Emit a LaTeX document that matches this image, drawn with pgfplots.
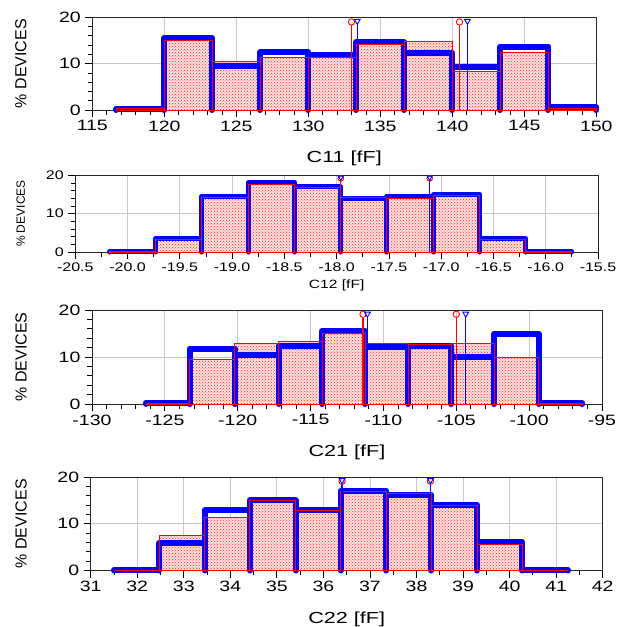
\documentclass[border=0pt]{standalone}
\usepackage{pgfplots}
\pgfplotsset{compat=1.18}
\usepackage{fontspec}
\setmainfont{Liberation Sans}
\usetikzlibrary{patterns}

\pgfplotsset{
  hist/.style={
    scale only axis, ymin=0, ymax=20, ytick={0,10,20}, minor y tick num=4,
    grid=major, major grid style={draw=black!22, line width=0.8pt},
    tick align=outside, xtick pos=left, ytick pos=left,
    axis line style={black!85, line width=0.8pt},
    major tick length=7pt, minor tick length=4.5pt,
    tick style={black, line width=0.8pt},
    clip=false,
    /pgf/number format/assume math mode=true,
    ylabel={\% DEVICES},
  },
  big/.style={
    tick label style={font=\fontsize{15}{15}\selectfont, xscale=1.3},
    xlabel style={font=\fontsize{16}{16}\selectfont, xscale=1.35},
    ylabel style={font=\fontsize{16}{16}\selectfont},
  },
  small/.style={
    tick label style={font=\fontsize{12.5}{12.5}\selectfont, xscale=1.28},
    xlabel style={font=\fontsize{12}{12}\selectfont, xscale=1.3},
    ylabel style={font=\fontsize{12}{12}\selectfont},
  },
  blueh/.style={draw=blue, line width=6pt, line join=round, line cap=round},
  redbar/.style={ybar interval=0.94, draw=red, line width=0.8pt, fill=red!12,
    postaction={pattern=crosshatch dots, pattern color=red!85}},
  redline/.style={ybar interval=0.94, draw=red, line width=0.8pt, fill=none},
  rmark/.style={red, only marks, mark=o, mark size=3.2pt, mark options={draw=red, line width=0.9pt}},
  bmark/.style={blue, only marks, mark=triangle, mark size=3.4pt, mark options={draw=blue, rotate=180, line width=0.9pt}},
  vline/.style={line width=1.1pt},
}

\begin{document}
\begin{tikzpicture}
\useasboundingbox (0,0) rectangle (625pt,-627pt);

% C11
\begin{axis}[hist, big, at={(92.3pt,-17.3pt)}, anchor=north west,
  width=504pt, height=92.7pt,
  xmin=115, xmax=150, xtick={115,120,...,150}, minor x tick num=4,
  xlabel={C11 [fF]},
  xlabel style={at={(axis description cs:0.5,-0.52)}, anchor=center},
  ylabel style={at={(axis description cs:-0.1415,0.5)}, anchor=center}]
  \addplot[redbar] coordinates {(116.67,0.4) (120,15.0) (123.33,10.4) (126.67,11.4) (130,11.3)
    (133.33,14.2) (136.67,14.7) (140,8.4) (143.33,12.4) (146.67,0.3) (150,0.3)};
  \addplot[blueh] coordinates {(116.67,0) (116.67,0.3) (120,0.3) (120,0) (120,15.5) (123.33,15.5)
    (123.33,0) (123.33,9.6) (126.67,9.6) (126.67,0) (126.67,12.5) (130,12.5) (130,0) (130,11.8)
    (133.33,11.8) (133.33,0) (133.33,14.6) (136.67,14.6) (136.67,0) (136.67,12.4) (140,12.4)
    (140,0) (140,9.3) (143.33,9.3) (143.33,0) (143.33,13.7) (146.67,13.7) (146.67,0)
    (146.67,0.6) (150,0.6) (150,0)};
  \addplot[redline] coordinates {(116.67,0.4) (120,15.0) (123.33,10.4) (126.67,11.4) (130,11.3)
    (133.33,14.2) (136.67,14.7) (140,8.4) (143.33,12.4) (146.67,0.3) (150,0.3)};
  \addplot[draw=red, vline] coordinates {(133.0,0) (133.0,18.3)};
  \addplot[draw=red, vline] coordinates {(140.5,0) (140.5,18.3)};
  \addplot[draw=blue, vline] coordinates {(133.4,0) (133.4,18.5)};
  \addplot[draw=blue, vline] coordinates {(141.05,0) (141.05,18.5)};
  \addplot[rmark] coordinates {(133.0,19.0) (140.5,19.0)};
  \addplot[bmark] coordinates {(133.4,19.2) (141.05,19.2)};
\end{axis}

% C12
\begin{axis}[hist, small, at={(75.3pt,-175.3pt)}, anchor=north west,
  width=522.7pt, height=76.7pt,
  xmin=-20.5, xmax=-15.5, xtick={-20.5,-20,...,-15.5}, minor x tick num=1,
  xticklabel style={/pgf/number format/.cd, fixed, fixed zerofill, precision=1},
  xlabel={C12 [fF]},
  xlabel style={at={(axis description cs:0.5,-0.43)}, anchor=center},
  ylabel style={at={(axis description cs:-0.1045,0.5)}, anchor=center},
  blueh/.append style={line width=5pt}]
  \addplot[redbar] coordinates {(-20.17,0.2) (-19.73,3.2) (-19.29,14.3) (-18.84,17.5) (-18.40,16.8)
    (-17.96,14.3) (-17.52,13.9) (-17.07,14.7) (-16.63,3.2) (-16.19,0.2) (-15.75,0.2)};
  \addplot[blueh] coordinates {(-20.17,0) (-20.17,0.2) (-19.73,0.2) (-19.73,0) (-19.73,3.5)
    (-19.29,3.5) (-19.29,0) (-19.29,14.6) (-18.84,14.6) (-18.84,0) (-18.84,18.1) (-18.40,18.1)
    (-18.40,0) (-18.40,17.0) (-17.96,17.0) (-17.96,0) (-17.96,13.9) (-17.52,13.9) (-17.52,0)
    (-17.52,14.6) (-17.07,14.6) (-17.07,0) (-17.07,15.0) (-16.63,15.0) (-16.63,0) (-16.63,3.5)
    (-16.19,3.5) (-16.19,0) (-16.19,0.2) (-15.75,0.2) (-15.75,0)};
  \addplot[redline] coordinates {(-20.17,0.2) (-19.73,3.2) (-19.29,14.3) (-18.84,17.5) (-18.40,16.8)
    (-17.96,14.3) (-17.52,13.9) (-17.07,14.7) (-16.63,3.2) (-16.19,0.2) (-15.75,0.2)};
  \addplot[draw=red, vline] coordinates {(-17.96,0) (-17.96,18.5)};
  \addplot[draw=blue, vline] coordinates {(-17.11,0) (-17.11,18.5)};
  \addplot[rmark, mark size=2.8pt] coordinates {(-17.96,19.2) (-17.11,19.2)};
  \addplot[bmark, mark size=2.8pt] coordinates {(-17.96,19.4) (-17.11,19.4)};
\end{axis}

% C21
\begin{axis}[hist, big, at={(92pt,-310pt)}, anchor=north west,
  width=510pt, height=94pt,
  xmin=-130, xmax=-95, xtick={-130,-125,...,-95}, minor x tick num=4,
  xlabel={C21 [fF]},
  xlabel style={at={(axis description cs:0.5,-0.51)}, anchor=center},
  ylabel style={at={(axis description cs:-0.139,0.5)}, anchor=center}]
  \addplot[redbar] coordinates {(-126.3,0.1) (-123.3,9.4) (-120.2,12.9) (-117.2,13.4) (-114.2,15.0)
    (-111.25,12.9) (-108.3,12.7) (-105.35,12.9) (-102.4,9.9) (-99.35,0.1) (-96.35,0.1)};
  \addplot[blueh] coordinates {(-126.3,0) (-126.3,0.3) (-123.3,0.3) (-123.3,0) (-123.3,11.8)
    (-120.2,11.8) (-120.2,0) (-120.2,10.4) (-117.2,10.4) (-117.2,0) (-117.2,12.4) (-114.2,12.4)
    (-114.2,0) (-114.2,15.6) (-111.25,15.6) (-111.25,0) (-111.25,12.1) (-108.3,12.1) (-108.3,0)
    (-108.3,12.3) (-105.35,12.3) (-105.35,0) (-105.35,10.1) (-102.4,10.1) (-102.4,0)
    (-102.4,15.0) (-99.35,15.0) (-99.35,0) (-99.35,0.2) (-96.35,0.2) (-96.35,0)};
  \addplot[redline] coordinates {(-126.3,0.1) (-123.3,9.4) (-120.2,12.9) (-117.2,13.4) (-114.2,15.0)
    (-111.25,12.9) (-108.3,12.7) (-105.35,12.9) (-102.4,9.9) (-99.35,0.1) (-96.35,0.1)};
  \addplot[draw=red, vline] coordinates {(-111.4,0) (-111.4,18.4)};
  \addplot[draw=red, vline] coordinates {(-105.0,0) (-105.0,18.4)};
  \addplot[draw=blue, vline] coordinates {(-111.1,0) (-111.1,18.5)};
  \addplot[draw=blue, vline] coordinates {(-104.35,0) (-104.35,18.5)};
  \addplot[rmark] coordinates {(-111.4,19.1) (-105.0,19.1)};
  \addplot[bmark] coordinates {(-111.1,19.2) (-104.35,19.2)};
\end{axis}

% C22
\begin{axis}[hist, big, at={(90.7pt,-477pt)}, anchor=north west,
  width=512pt, height=93.5pt,
  xmin=31, xmax=42, xtick={31,32,...,42}, minor x tick num=1,
  xlabel={C22 [fF]},
  xlabel style={at={(axis description cs:0.5,-0.52)}, anchor=center},
  ylabel style={at={(axis description cs:-0.136,0.5)}, anchor=center}]
  \addplot[redbar] coordinates {(31.5,0.05) (32.47,7.5) (33.45,11.4) (34.42,15.1) (35.4,12.9)
    (36.37,16.9) (37.35,16.4) (38.32,13.9) (39.3,5.5) (40.27,0.05) (41.25,0.05)};
  \addplot[blueh] coordinates {(31.5,0) (31.5,0.1) (32.47,0.1) (32.47,0) (32.47,5.9) (33.45,5.9)
    (33.45,0) (33.45,12.9) (34.42,12.9) (34.42,0) (34.42,15.0) (35.4,15.0) (35.4,0) (35.4,13.0)
    (36.37,13.0) (36.37,0) (36.37,17.1) (37.35,17.1) (37.35,0) (37.35,16.2) (38.32,16.2)
    (38.32,0) (38.32,14.1) (39.3,14.1) (39.3,0) (39.3,6.0) (40.27,6.0) (40.27,0) (40.27,0.1)
    (41.25,0.1) (41.25,0)};
  \addplot[redline] coordinates {(31.5,0.05) (32.47,7.5) (33.45,11.4) (34.42,15.1) (35.4,12.9)
    (36.37,16.9) (37.35,16.4) (38.32,13.9) (39.3,5.5) (40.27,0.05) (41.25,0.05)};
  \addplot[draw=blue, vline] coordinates {(36.4,0) (36.4,18.5)};
  \addplot[draw=blue, vline] coordinates {(38.3,0) (38.3,18.5)};
  \addplot[rmark] coordinates {(36.4,19.1) (38.3,19.1)};
  \addplot[bmark] coordinates {(36.4,19.3) (38.3,19.3)};
\end{axis}
\end{tikzpicture}
\end{document}
